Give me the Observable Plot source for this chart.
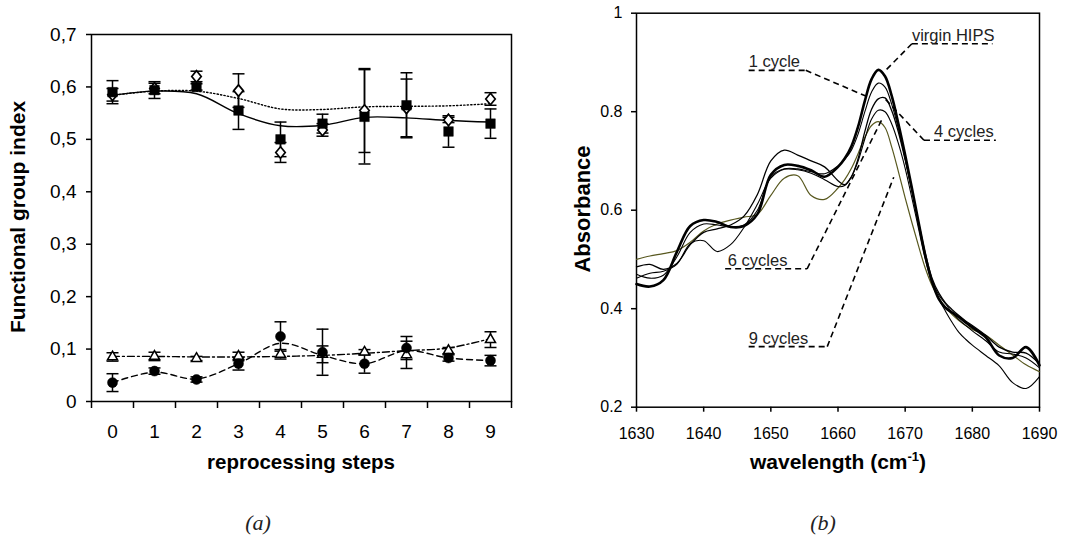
<!DOCTYPE html>
<html><head><meta charset="utf-8">
<script src="https://cdn.jsdelivr.net/npm/d3@7"></script>
<script src="https://cdn.jsdelivr.net/npm/@observablehq/plot@0.6"></script>
<style>
body{margin:0;background:#fff;}
#root{position:relative;width:1082px;height:541px;overflow:hidden;background:#fff;}
#root svg{position:absolute;top:0;}
</style></head>
<body><div id="root"></div>
<script>
// ---------- Panel (a): functional group index vs reprocessing steps ----------
const steps = [0,1,2,3,4,5,6,7,8,9];
const sqValues = [0.590,0.594,0.600,0.555,0.500,0.530,0.543,0.565,0.515,0.530];
const sqErr    = [0.022,0.016,0.006,0.036,0.033,0.018,0.090,0.062,0.030,0.028];
const sqTrend  = [0.584,0.592,0.587,0.549,0.526,0.527,0.542,0.541,0.536,0.533];
const dmValues = [0.585,0.597,0.620,0.593,0.475,0.518,0.555,0.560,0.537,0.577];
const dmErr    = [0.012,0.010,0.010,0.032,0.019,0.012,0.080,0.055,0.005,0.012];
const dmTrend  = [0.584,0.592,0.592,0.578,0.558,0.557,0.562,0.563,0.564,0.568];
const trValues = [0.085,0.086,0.082,0.086,0.090,0.090,0.094,0.089,0.097,0.118];
const trErr    = [0.008,0.008,0.004,0.008,0.009,0.016,0.005,0.026,0.006,0.015];
const trTrend  = [0.086,0.086,0.085,0.085,0.086,0.088,0.092,0.097,0.102,0.120];
const ciValues = [0.036,0.058,0.042,0.072,0.124,0.094,0.072,0.102,0.083,0.078];
const ciErr    = [0.017,0.006,0.005,0.012,0.028,0.044,0.018,0.022,0.006,0.010];
const ciTrend  = [0.036,0.056,0.043,0.072,0.111,0.088,0.072,0.097,0.083,0.078];
const leftYTicks = [0,0.1,0.2,0.3,0.4,0.5,0.6,0.7];

// ---------- Panel (b): FTIR spectra ----------
const wavelengths = [1630,1632,1634,1636,1638,1640,1642,1644,1646,1648,1650,1652,1654,1656,1658,1660,
  1661,1662,1663,1664,1665,1666,1667,1668,1669,1670,1671,1672,1673,1674,1675,1676,1677,1678,1679,1680,
  1682,1684,1686,1688,1690];
const virginHIPS = [.450,.445,.458,.515,.568,.580,.576,.566,.568,.592,.672,.692,.690,.681,.668,.688,
  .705,.730,.770,.822,.866,.885,.872,.832,.775,.712,.645,.575,.508,.455,.420,.402,.392,.383,.372,.362,
  .342,.305,.300,.322,.285];
const cycle1 = [.470,.462,.468,.505,.555,.572,.570,.566,.570,.600,.668,.684,.684,.678,.674,.690,
  .703,.722,.755,.800,.840,.858,.850,.815,.765,.705,.640,.572,.505,.457,.428,.410,.392,.378,.366,.355,
  .335,.312,.308,.300,.280];
const cycles4 = [.485,.490,.480,.492,.530,.555,.562,.570,.588,.632,.700,.722,.712,.700,.688,.660,
  .652,.668,.705,.760,.805,.826,.828,.802,.758,.702,.640,.575,.512,.462,.432,.412,.398,.386,.375,.366,
  .346,.322,.312,.310,.288];
const cycles6 = [.462,.472,.476,.490,.532,.538,.516,.530,.565,.612,.665,.683,.682,.675,.662,.648,
  .650,.668,.700,.745,.785,.803,.800,.775,.735,.685,.625,.562,.500,.452,.420,.395,.372,.352,.338,.326,
  .305,.284,.250,.238,.262];
const cycles9 = [.500,.507,.512,.518,.535,.558,.572,.580,.586,.592,.630,.665,.670,.630,.622,.645,
  .662,.685,.715,.748,.772,.780,.768,.728,.678,.625,.575,.527,.482,.447,.422,.403,.388,.376,.366,.358,
  .346,.326,.306,.286,.272];
const rightXTicks = [1630,1640,1650,1660,1670,1680,1690];
const rightYTicks = [0.2,0.4,0.6,0.8,1];

// annotation labels (data coordinates)
const annText   = ["virgin HIPS","1 cycle","4 cycles","6 cycles","9 cycles"];
const annTextX  = [1671.0,1646.7,1674.3,1643.6,1646.7];
const annLineX1 = [1671.0,1646.7,1672.8,1643.2,1646.7];
const annLineX2 = [1683.0,1655.2,1683.5,1655.4,1658.4];
const annLineY  = [0.938,0.884,0.742,0.481,0.323];
const annFromX  = [1671.0,1655.2,1672.8,1655.4,1658.4];
const annToX    = [1667.1,1664.6,1666.8,1666.6,1668.3];
const annToY    = [0.884,0.829,0.829,0.786,0.667];

// ---------- build ----------
const root = document.getElementById("root");
const FONT = "Arial, 'Liberation Sans', sans-serif";
const capSymbol = {draw(ctx, size){ const r = Math.sqrt(size/Math.PI); ctx.moveTo(-r,0); ctx.lineTo(r,0); }};
const diamondSymbol = {draw(ctx, size){ const r = Math.sqrt(size/Math.PI); ctx.moveTo(0,-r*1.15); ctx.lineTo(r*0.95,0); ctx.lineTo(0,r*1.15); ctx.lineTo(-r*0.95,0); ctx.closePath(); }};

function rows(vals, errs, trend){ return steps.map((s,i)=>({step:s, v:vals[i], e:errs[i], t:trend[i]})); }
const sq = rows(sqValues, sqErr, sqTrend);
const dm = rows(dmValues, dmErr, dmTrend);
const tr = rows(trValues, trErr, trTrend);
const ci = rows(ciValues, ciErr, ciTrend);

function trendLine(data, dash){
  return Plot.line(data, {x:"step", y:"t", curve:"catmull-rom", stroke:"#000", strokeWidth:1.4, strokeDasharray:dash});
}
function errMarks(data){
  return [
    Plot.ruleX(data, {x:"step", y1:d=>d.v-d.e, y2:d=>d.v+d.e, stroke:"#000", strokeWidth:1.5}),
    Plot.dot(data, {x:"step", y:d=>d.v-d.e, symbol:capSymbol, r:6, fill:"none", stroke:"#000", strokeWidth:1.5}),
    Plot.dot(data, {x:"step", y:d=>d.v+d.e, symbol:capSymbol, r:6, fill:"none", stroke:"#000", strokeWidth:1.5})
  ];
}
const boundaries = steps.map(s=>s-0.5).concat([steps[steps.length-1]+0.5]);
const fmtComma = d => d===0 ? "0" : d.toFixed(1).replace(".", ",");

const left = Plot.plot({
  width:541, height:450, marginLeft:91, marginRight:30, marginTop:34, marginBottom:49,
  x:{type:"linear", domain:[-0.5, 9.5]},
  y:{domain:[0,0.7]},
  style:{fontFamily:FONT, fontSize:"19px", color:"#000", background:"transparent", overflow:"visible"},
  marks:[
    Plot.frame({stroke:"#000", strokeWidth:1.5}),
    Plot.axisY({ticks:leftYTicks, tickSize:5, tickPadding:10, tickFormat:fmtComma, label:null, strokeWidth:1.5}),
    Plot.axisX({ticks:boundaries, tickSize:7, tickFormat:()=>"", label:null, strokeWidth:1.5}),
    Plot.axisX({ticks:steps, tickSize:0, tickPadding:23, tickFormat:d=>String(d), label:null}),
    trendLine(sq, null),
    trendLine(dm, "1.3,2.2"),
    trendLine(tr, "7,3,2,3"),
    trendLine(ci, "6,4"),
    ...errMarks(dm), ...errMarks(sq), ...errMarks(tr), ...errMarks(ci),
    Plot.dot(dm, {x:"step", y:"v", symbol:diamondSymbol, r:5, fill:"#fff", stroke:"#000", strokeWidth:1.7}),
    Plot.dot(sq, {x:"step", y:"v", symbol:"square", r:5.4, fill:"#000", stroke:"#000", strokeWidth:0.5}),
    Plot.dot(tr, {x:"step", y:"v", symbol:"triangle2", r:4.8, fill:"#fff", stroke:"#000", strokeWidth:1.5}),
    Plot.dot(ci, {x:"step", y:"v", symbol:"circle", r:5, fill:"#000", stroke:"#000", strokeWidth:0.5})
  ]
});
left.style.left = "0px";
root.appendChild(left);

const spectra = [
  {name:"9 cycles", vals:cycles9, color:"#58581f", w:1.2},
  {name:"6 cycles", vals:cycles6, color:"#000", w:1.1},
  {name:"4 cycles", vals:cycles4, color:"#000", w:1.3},
  {name:"1 cycle", vals:cycle1, color:"#000", w:1.1},
  {name:"virgin HIPS", vals:virginHIPS, color:"#000", w:2.6}
];
const annRows = annText.map((t,i)=>({t, tx:annTextX[i], x1:annLineX1[i], x2:annLineX2[i], y:annLineY[i], fx:annFromX[i], tox:annToX[i], toy:annToY[i]}));

const right = Plot.plot({
  width:542, height:450, marginLeft:96, marginRight:43, marginTop:12.7, marginBottom:43.3,
  x:{domain:[1630,1690]},
  y:{domain:[0.2,1]},
  style:{fontFamily:FONT, fontSize:"16px", color:"#000", background:"transparent", overflow:"visible"},
  marks:[
    Plot.frame({stroke:"#000", strokeWidth:1.5}),
    Plot.axisY({ticks:rightYTicks, tickSize:5, tickPadding:9, tickFormat:d=>d===1?"1":d.toFixed(1), label:null, strokeWidth:1.5}),
    Plot.axisX({ticks:rightXTicks, tickSize:5, tickPadding:15, tickFormat:d=>String(d), label:null, strokeWidth:1.5}),
    ...spectra.map(s => Plot.line(wavelengths.map((w,i)=>({w, a:s.vals[i]})), {x:"w", y:"a", curve:"catmull-rom", stroke:s.color, strokeWidth:s.w})),
    Plot.link(annRows, {x1:"x1", x2:"x2", y1:"y", y2:"y", stroke:"#000", strokeWidth:1.6, strokeDasharray:"6,4"}),
    Plot.link(annRows, {x1:"fx", x2:"tox", y1:"y", y2:"toy", stroke:"#000", strokeWidth:1.6, strokeDasharray:"6,4"}),
    Plot.text(annRows, {x:"tx", y:"y", text:"t", textAnchor:"start", lineAnchor:"bottom", dy:-3, fontSize:16.5, fill:"#222"})
  ]
});
right.style.left = "540px";
root.appendChild(right);

// ---------- titles & captions (real text) ----------
const NS = "http://www.w3.org/2000/svg";
const ov = document.createElementNS(NS, "svg");
ov.setAttribute("width", 1082); ov.setAttribute("height", 541);
ov.style.left = "0px"; ov.style.background = "transparent";
ov.innerHTML = `
<g font-family="${FONT.replace(/'/g,"&apos;")}" fill="#000" font-weight="bold" font-size="21">
  <text x="301" y="469" text-anchor="middle" font-size="20.5">reprocessing steps</text>
  <text transform="translate(25,217) rotate(-90)" text-anchor="middle">Functional group index</text>
  <text x="838" y="469" text-anchor="middle">wavelength (cm<tspan dy="-8" font-size="13">-1</tspan><tspan dy="8">)</tspan></text>
  <text transform="translate(590,209) rotate(-90)" text-anchor="middle" font-size="22">Absorbance</text>
</g>
<g font-family="'Liberation Serif','DejaVu Serif',serif" font-style="italic" font-size="22" fill="#222">
  <text x="258" y="530" text-anchor="middle">(a)</text>
  <text x="823" y="530" text-anchor="middle">(b)</text>
</g>`;
root.appendChild(ov);
</script>
</body></html>
